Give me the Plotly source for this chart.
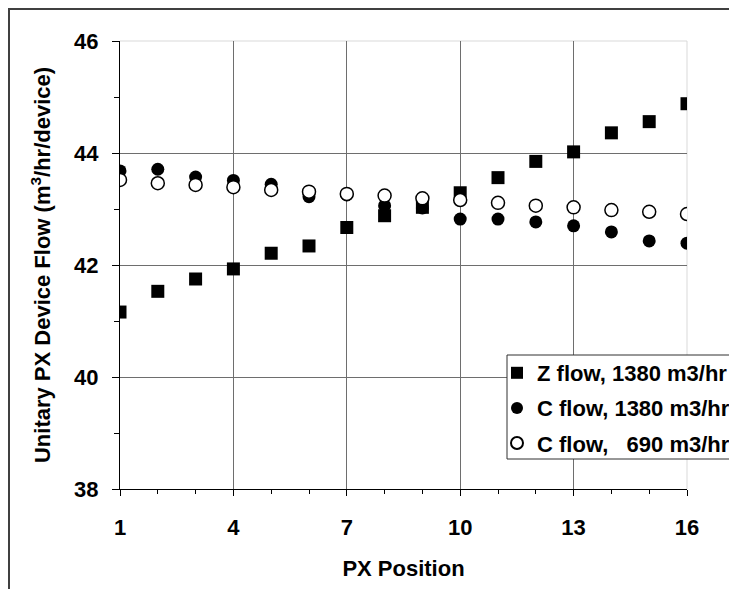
import plotly.graph_objects as go

# ---- data ----
positions = list(range(1, 17))
z_flow_1380 = [41.16, 41.53, 41.75, 41.93, 42.21, 42.34, 42.67, 42.88,
               43.03, 43.29, 43.56, 43.85, 44.02, 44.36, 44.56, 44.88]
c_flow_1380 = [43.68, 43.71, 43.57, 43.51, 43.44, 43.22, 43.25, 43.06,
               43.02, 42.82, 42.82, 42.77, 42.70, 42.59, 42.43, 42.39]
c_flow_690 = [43.52, 43.46, 43.43, 43.39, 43.34, 43.31, 43.27, 43.24,
              43.19, 43.16, 43.11, 43.06, 43.03, 42.98, 42.95, 42.91]
series_names = ["Z flow, 1380 m3/hr", "C flow, 1380 m3/hr",
                "C flow,\u00a0\u00a0\u00a0690 m3/hr"]

x_major = [1, 4, 7, 10, 13, 16]
x_minor = [2, 3, 5, 6, 8, 9, 11, 12, 14, 15]
y_major = [38, 40, 42, 44, 46]
y_minor = [39, 41, 43, 45]

FONT = "Liberation Sans, Arial, sans-serif"
FS = 22
GRID = "#6e6e6e"
EDGE = "#d9d9d9"

fig = go.Figure()
fig.add_trace(go.Scatter(x=positions, y=z_flow_1380, mode="markers",
                         name=series_names[0], legendgroup="z1380",
                         marker=dict(symbol="square", size=13, color="black")))
fig.add_trace(go.Scatter(x=positions, y=c_flow_1380, mode="markers",
                         name=series_names[1], legendgroup="c1380",
                         marker=dict(symbol="circle", size=13, color="black")))
fig.add_trace(go.Scatter(x=positions, y=c_flow_690, mode="markers",
                         name=series_names[2], legendgroup="c690",
                         marker=dict(symbol="circle", size=13, color="white",
                                     line=dict(color="black", width=1.5))))

fig.update_xaxes(
    range=[1, 16], tickmode="array", tickvals=x_major,
    ticks="outside", ticklen=6, tickwidth=1, tickcolor="black",
    showline=True, linecolor="black", linewidth=1,
    showgrid=True, gridcolor=GRID, gridwidth=1, zeroline=False,
    ticklabelstandoff=13,
    tickfont=dict(family=FONT, size=FS, color="black", weight="bold"),
    minor=dict(tickmode="array", tickvals=x_minor, showgrid=False,
               ticks="outside", ticklen=4, tickcolor="black"),
    title=dict(text="<b>PX Position</b>", standoff=21,
               font=dict(family=FONT, size=FS, color="black")),
)
fig.update_yaxes(
    range=[38, 46], tickmode="array", tickvals=y_major,
    ticks="outside", ticklen=7, tickwidth=1, tickcolor="black",
    showline=True, linecolor="black", linewidth=1,
    showgrid=True, gridcolor=GRID, gridwidth=1, zeroline=False,
    ticklabelstandoff=9,
    tickfont=dict(family=FONT, size=FS, color="black", weight="bold"),
    minor=dict(tickmode="array", tickvals=y_minor, showgrid=False,
               ticks="outside", ticklen=5, tickcolor="black"),
    title=dict(text="<b>Unitary PX Device Flow (m<sup>3</sup>/hr/device)</b>",
               standoff=17, font=dict(family=FONT, size=FS, color="black")),
)

# figure sits inside the page's default 8px body margin
W, H = 729, 581
L, R, T, B = 112, 50, 33, 100
pw, ph = W - L - R, H - T - B


def px_x(p):
    return (p - L) / pw


def px_y(p):
    return (H - B - p) / ph


shapes = [
    # plot area top/right light border (over the edge gridlines, under data)
    dict(type="line", xref="paper", yref="paper", x0=0, x1=1, y0=1, y1=1,
         line=dict(color=EDGE, width=1), layer="between"),
    dict(type="line", xref="paper", yref="paper", x0=1, x1=1, y0=0, y1=1,
         line=dict(color=EDGE, width=1), layer="between"),
    # chart area border (extends beyond the visible page on right/bottom)
    dict(type="rect", xref="paper", yref="paper",
         x0=px_x(1), x1=px_x(W + 20), y0=px_y(H + 20), y1=px_y(1),
         line=dict(color="#404040", width=2), fillcolor="rgba(0,0,0,0)",
         layer="below"),
    # legend box
    dict(type="rect", xref="paper", yref="paper",
         x0=px_x(499), x1=px_x(W + 20), y0=px_y(451), y1=px_y(347),
         line=dict(color="#303030", width=1), fillcolor="white",
         layer="above"),
]

fig.update_layout(
    width=W, height=H,
    margin=dict(l=L, r=R, t=T, b=B, autoexpand=False),
    paper_bgcolor="white", plot_bgcolor="white",
    shapes=shapes,
    showlegend=True,
    legend=dict(x=px_x(489), y=px_y(344), xanchor="left", yanchor="top",
                bgcolor="rgba(0,0,0,0)", borderwidth=0,
                font=dict(family=FONT, size=FS, color="black", weight="bold"),
                tracegroupgap=3.5, itemsizing="constant"),
)

fig.write_html("out.html")
